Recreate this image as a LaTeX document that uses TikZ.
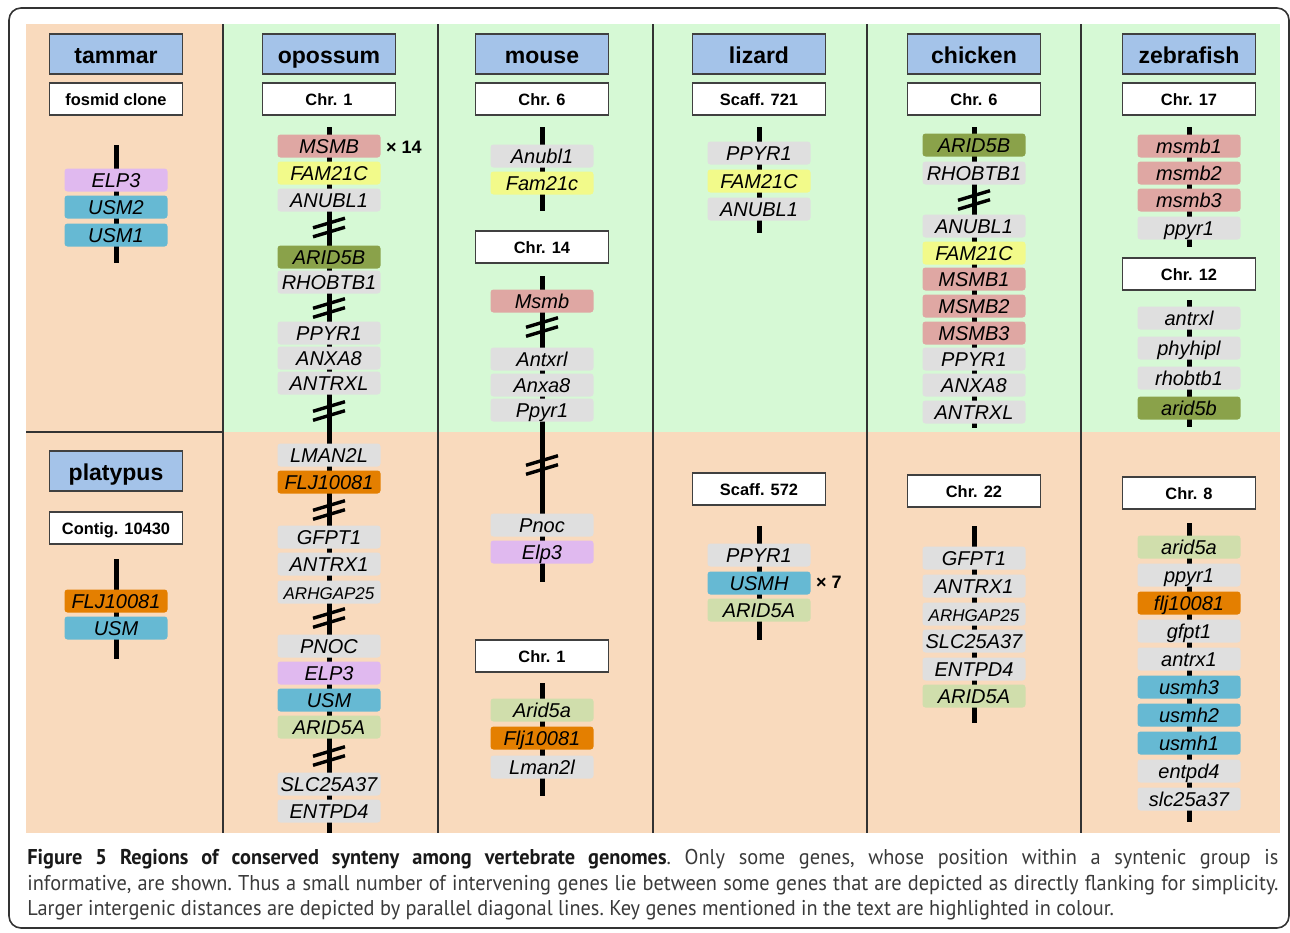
\documentclass[tikz,border=0pt]{standalone}
\usepackage{fontspec}
\setmainfont{Liberation Sans}
\newfontfamily\capfont[FakeStretch=0.95]{PT Sans}
\usetikzlibrary{calc}
\definecolor{bgGreen}{HTML}{D6F9D5}
\definecolor{bgPeach}{HTML}{F9DABD}
\definecolor{hdrBlue}{HTML}{A4C3E9}
\definecolor{cGray}{HTML}{DFDFDF}
\definecolor{cPink}{HTML}{DFA7A3}
\definecolor{cYellow}{HTML}{F2FA8A}
\definecolor{cOlive}{HTML}{8AA24A}
\definecolor{cLgreen}{HTML}{D0DEAC}
\definecolor{cTeal}{HTML}{66B9D3}
\definecolor{cPurple}{HTML}{E0B9EF}
\definecolor{cOrange}{HTML}{E47F00}
\definecolor{capGray}{HTML}{3A3A3A}
\tikzset{
  gene/.style={rounded corners=1.5pt, minimum width=51.5pt, minimum height=11.5pt,
    inner sep=0pt, text height=7.8pt, text depth=0pt,
    font=\fontsize{10}{12}\selectfont\itshape},
  gG/.style={gene, fill=cGray},
  gP/.style={gene, fill=cPink},
  gY/.style={gene, fill=cYellow},
  gO/.style={gene, fill=cOlive},
  gL/.style={gene, fill=cLgreen},
  gT/.style={gene, fill=cTeal},
  gU/.style={gene, fill=cPurple},
  gR/.style={gene, fill=cOrange},
  small/.style={font=\fontsize{8.5}{10}\selectfont\itshape, text height=7pt},
  hdr/.style={draw=black!75, line width=0.7pt, fill=hdrBlue, minimum width=66.5pt,
    minimum height=20pt, inner sep=0pt, text height=9.2pt, text depth=0pt,
    font=\fontsize{11.5}{13}\selectfont\bfseries},
  chr/.style={draw=black!75, line width=0.6pt, fill=white, minimum width=66.5pt,
    minimum height=16pt, inner sep=0pt, text height=6.6pt, text depth=0pt,
    font=\fontsize{8.2}{10}\selectfont\bfseries},
  chrline/.style={line width=2.5pt, black},
  brkline/.style={line width=1.7pt, black},
  sep/.style={line width=0.6pt, black!80},
  mult/.style={font=\fontsize{9}{11}\selectfont\bfseries, inner sep=0pt},
}
\newcommand\brkmark[1]{%
  \draw[brkline] ($(#1)+(-16,0.3)$) -- ($(#1)+(16,-9.3)$);
  \draw[brkline] ($(#1)+(-16,9.3)$) -- ($(#1)+(16,-0.3)$);}
\begin{document}
\begin{tikzpicture}[x=0.5pt, y=-0.5pt]
\useasboundingbox (0,0) rectangle (1290,932);
% frame
\draw[black!80, line width=0.8pt, rounded corners=6pt] (9,8) rectangle (1289,928);
% backgrounds
\fill[bgGreen] (223,24) rectangle (1280,432);
\fill[bgPeach] (223,432) rectangle (1280,833);
\fill[bgPeach] (26,24) rectangle (223,833);
% separators
\foreach \xx in {223,438,653,867,1081} {\draw[sep] (\xx,24) -- (\xx,833);}
\draw[sep] (26,432) -- (223,432);

% ---------- chromosome lines ----------
\coordinate (ta1) at (116,145); \coordinate (ta2) at (116,263);
\coordinate (pl1) at (116,559); \coordinate (pl2) at (116,659);
\coordinate (op1) at (329,127); \coordinate (op2) at (329,833);
\coordinate (mo1) at (542,127); \coordinate (mo2) at (542,211);
\coordinate (mo3) at (542,276); \coordinate (mo4) at (542,582);
\coordinate (mo5) at (542,683); \coordinate (mo6) at (542,796);
\coordinate (li1) at (759,127); \coordinate (li2) at (759,233);
\coordinate (li3) at (759,526); \coordinate (li4) at (759,640);
\coordinate (ch1) at (974,127); \coordinate (ch2) at (974,428);
\coordinate (ch3) at (974,526); \coordinate (ch4) at (974,723);
\coordinate (ze1) at (1189,127); \coordinate (ze2) at (1189,247);
\coordinate (ze3) at (1189,300); \coordinate (ze4) at (1189,427);
\coordinate (ze5) at (1189,523); \coordinate (ze6) at (1189,822);
\foreach \a/\b in {ta1/ta2,pl1/pl2,op1/op2,mo1/mo2,mo3/mo4,mo5/mo6,li1/li2,li3/li4,ch1/ch2,ch3/ch4,ze1/ze2,ze3/ze4,ze5/ze6}
  {\draw[chrline] (\a) -- (\b);}

% ---------- break marks ----------
\coordinate (bk1) at (329,227.5); \coordinate (bk2) at (329,308);
\coordinate (bk3) at (329,411); \coordinate (bk4) at (329,510);
\coordinate (bk5) at (329,618); \coordinate (bk6) at (329,756);
\coordinate (bk7) at (542,327); \coordinate (bk8) at (542,465);
\coordinate (bk9) at (974,200);
\foreach \b in {bk1,bk2,bk3,bk4,bk5,bk6,bk7,bk8,bk9} {\brkmark{\b}}

% ---------- tammar / platypus ----------
\node[hdr] (hTam) at (116,54) {tammar};
\node[chr] (cTam) at (116,99) {fosmid clone};
\node[gU] (tELP3) at (116,180) {ELP3};
\node[gT] (tUSM2) at (116,207) {USM2};
\node[gT] (tUSM1) at (116,235) {USM1};
\node[hdr] (hPla) at (116,471) {platypus};
\node[chr] (cPla) at (116,528) {Contig. 10430};
\node[gR] (pFLJ) at (116,601) {FLJ10081};
\node[gT] (pUSM) at (116,628) {USM};

% ---------- opossum ----------
\node[hdr] (hOpo) at (329,54) {opossum};
\node[chr] (cOpo) at (329,99) {Chr. 1};
\node[gP] (oMSMB) at (329,146) {MSMB};
\node[mult] (oX14) at (404,147) {× 14};
\node[gY] (oFAM) at (329,173) {FAM21C};
\node[gG] (oANUBL) at (329,200) {ANUBL1};
\node[gO] (oARID5B) at (329,257) {ARID5B};
\node[gG] (oRHOB) at (329,282) {RHOBTB1};
\node[gG] (oPPYR) at (329,333) {PPYR1};
\node[gG] (oANXA) at (329,358) {ANXA8};
\node[gG] (oANTRXL) at (329,383) {ANTRXL};
\node[gG] (oLMAN) at (329,455) {LMAN2L};
\node[gR] (oFLJ) at (329,482) {FLJ10081};
\node[gG] (oGFPT) at (329,537) {GFPT1};
\node[gG] (oANTRX) at (329,564) {ANTRX1};
\node[gG, small] (oARHG) at (329,592) {ARHGAP25};
\node[gG] (oPNOC) at (329,646) {PNOC};
\node[gU] (oELP3) at (329,673) {ELP3};
\node[gT] (oUSM) at (329,700) {USM};
\node[gL] (oARID5A) at (329,727) {ARID5A};
\node[gG] (oSLC) at (329,784) {SLC25A37};
\node[gG] (oENT) at (329,811) {ENTPD4};

% ---------- mouse ----------
\node[hdr] (hMou) at (542,54) {mouse};
\node[chr] (cMou6) at (542,99) {Chr. 6};
\node[gG] (mAnubl) at (542,156) {Anubl1};
\node[gY] (mFam) at (542,183) {Fam21c};
\node[chr] (cMou14) at (542,247) {Chr. 14};
\node[gP] (mMsmb) at (542,301) {Msmb};
\node[gG] (mAntxrl) at (542,359) {Antxrl};
\node[gG] (mAnxa) at (542,385) {Anxa8};
\node[gG] (mPpyr) at (542,410) {Ppyr1};
\node[gG] (mPnoc) at (542,525) {Pnoc};
\node[gU] (mElp3) at (542,552) {Elp3};
\node[chr] (cMou1) at (542,656) {Chr. 1};
\node[gL] (mArid) at (542,710) {Arid5a};
\node[gR] (mFlj) at (542,738) {Flj10081};
\node[gG] (mLman) at (542,767) {Lman2l};

% ---------- lizard ----------
\node[hdr] (hLiz) at (759,54) {lizard};
\node[chr] (cLiz1) at (759,99) {Scaff. 721};
\node[gG] (lPPYR) at (759,153) {PPYR1};
\node[gY] (lFAM) at (759,181) {FAM21C};
\node[gG] (lANUBL) at (759,209) {ANUBL1};
\node[chr] (cLiz2) at (759,489) {Scaff. 572};
\node[gG] (lPPYR2) at (759,555) {PPYR1};
\node[gT] (lUSMH) at (759,583) {USMH};
\node[mult] (lX7) at (829,582) {× 7};
\node[gL] (lARID) at (759,610) {ARID5A};

% ---------- chicken ----------
\node[hdr] (hChi) at (974,54) {chicken};
\node[chr] (cChi6) at (974,99) {Chr. 6};
\node[gO] (cARID5B) at (974,145) {ARID5B};
\node[gG] (cRHOB) at (974,173) {RHOBTB1};
\node[gG] (cANUBL) at (974,226) {ANUBL1};
\node[gY] (cFAM) at (974,253) {FAM21C};
\node[gP] (cMSMB1) at (974,279) {MSMB1};
\node[gP] (cMSMB2) at (974,306) {MSMB2};
\node[gP] (cMSMB3) at (974,333) {MSMB3};
\node[gG] (cPPYR) at (974,359) {PPYR1};
\node[gG] (cANXA) at (974,385) {ANXA8};
\node[gG] (cANTRXL) at (974,412) {ANTRXL};
\node[chr] (cChi22) at (974,491) {Chr. 22};
\node[gG] (cGFPT) at (974,558) {GFPT1};
\node[gG] (cANTRX) at (974,586) {ANTRX1};
\node[gG, small] (cARHG) at (974,614) {ARHGAP25};
\node[gG] (cSLC) at (974,641) {SLC25A37};
\node[gG] (cENT) at (974,669) {ENTPD4};
\node[gL] (cARID5A) at (974,696) {ARID5A};

% ---------- zebrafish ----------
\node[hdr] (hZeb) at (1189,54) {zebrafish};
\node[chr] (cZeb17) at (1189,99) {Chr. 17};
\node[gP] (zm1) at (1189,146) {msmb1};
\node[gP] (zm2) at (1189,173) {msmb2};
\node[gP] (zm3) at (1189,200) {msmb3};
\node[gG] (zppyr) at (1189,228) {ppyr1};
\node[chr] (cZeb12) at (1189,274) {Chr. 12};
\node[gG] (zantrxl) at (1189,318) {antrxl};
\node[gG] (zphy) at (1189,348) {phyhipl};
\node[gG] (zrhob) at (1189,378) {rhobtb1};
\node[gO] (zarid5b) at (1189,408) {arid5b};
\node[chr] (cZeb8) at (1189,493) {Chr. 8};
\node[gL] (zarid5a) at (1189,547) {arid5a};
\node[gG] (zppyr2) at (1189,575) {ppyr1};
\node[gR] (zflj) at (1189,603) {flj10081};
\node[gG] (zgfpt) at (1189,631) {gfpt1};
\node[gG] (zantrx) at (1189,659) {antrx1};
\node[gT] (zu3) at (1189,687) {usmh3};
\node[gT] (zu2) at (1189,715) {usmh2};
\node[gT] (zu1) at (1189,743) {usmh1};
\node[gG] (zent) at (1189,771) {entpd4};
\node[gG] (zslc) at (1189,799) {slc25a37};

% ---------- caption ----------
\node[anchor=north west, inner sep=0pt, text width=625.5pt, align=justify,
  font=\capfont\fontsize{10.7}{12.8}\selectfont\frenchspacing, text=capGray] (cap) at (27,849)
 {{\bfseries\color{black!90}Figure 5 Regions of conserved synteny among vertebrate genomes}. Only some genes, whose position within a syntenic group is\linebreak
 informative, are shown. Thus a small number of intervening genes lie between some genes that are depicted as directly flanking for simplicity.\linebreak
 Larger intergenic distances are depicted by parallel diagonal lines. Key genes mentioned in the text are highlighted in colour.};
\end{tikzpicture}
\end{document}
